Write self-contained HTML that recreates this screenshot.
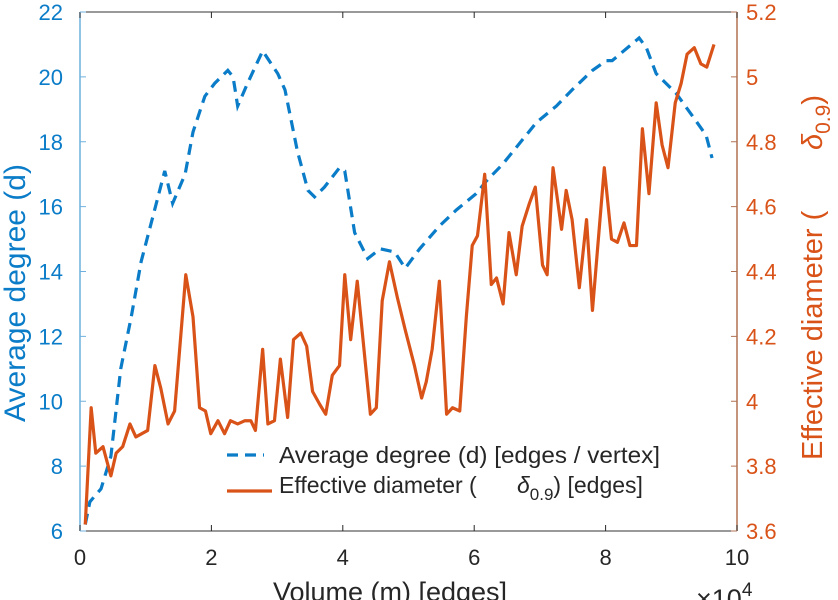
<!DOCTYPE html>
<html><head><meta charset="utf-8"><style>
body{margin:0;background:#fff;}
svg{display:block;font-family:"Liberation Sans","DejaVu Sans",sans-serif;}
</style></head><body>
<svg id="chart" width="838" height="600" viewBox="0 0 838 600" xmlns="http://www.w3.org/2000/svg"></svg>
<script>
const xTicks=[0,2,4,6,8,10];
const leftTicks=[6,8,10,12,14,16,18,20,22];
const rightTicks=[3.6,3.8,4,4.2,4.4,4.6,4.8,5,5.2];
const rightTickLabels=["3.6","3.8","4","4.2","4.4","4.6","4.8","5","5.2"];
const degX=[0.08,0.15,0.32,0.47,0.62,0.78,0.93,1.11,1.29,1.41,1.60,1.72,1.90,2.05,2.25,2.33,2.40,2.55,2.78,3.01,3.12,3.31,3.47,3.57,3.72,3.95,4.03,4.18,4.38,4.57,4.79,4.95,5.17,5.47,5.73,6.03,6.19,6.43,6.95,7.25,7.49,7.80,8.01,8.10,8.51,8.62,8.77,9.07,9.32,9.53,9.62];
const degY=[6.2,6.9,7.3,8.3,11,12.6,14.3,15.7,17.1,16.1,17,18.3,19.4,19.8,20.2,20,19.1,19.8,20.8,20.1,19.6,17.7,16.5,16.3,16.6,17.2,17.1,15.2,14.4,14.7,14.6,14.1,14.7,15.4,15.9,16.4,16.8,17.3,18.6,19.1,19.6,20.2,20.5,20.5,21.2,20.9,20.1,19.5,18.8,18.2,17.5];
const diaX=[0.08,0.17,0.24,0.35,0.47,0.55,0.65,0.76,0.85,1.03,1.14,1.23,1.34,1.44,1.61,1.72,1.82,1.91,1.99,2.10,2.20,2.29,2.40,2.51,2.60,2.67,2.78,2.86,2.96,3.05,3.16,3.25,3.36,3.45,3.54,3.65,3.74,3.84,3.95,4.03,4.12,4.22,4.42,4.51,4.60,4.71,4.83,4.95,5.09,5.20,5.27,5.36,5.47,5.58,5.67,5.78,5.88,5.97,6.05,6.16,6.26,6.34,6.44,6.53,6.64,6.73,6.84,6.93,7.04,7.11,7.20,7.33,7.40,7.49,7.60,7.71,7.80,7.98,8.09,8.18,8.28,8.37,8.47,8.56,8.66,8.77,8.86,8.95,9.06,9.15,9.24,9.35,9.45,9.54,9.65];
const diaY=[3.62,3.98,3.84,3.86,3.77,3.84,3.86,3.93,3.89,3.91,4.11,4.04,3.93,3.97,4.39,4.26,3.98,3.97,3.90,3.94,3.90,3.94,3.93,3.94,3.94,3.91,4.16,3.93,3.94,4.13,3.95,4.19,4.21,4.17,4.03,3.99,3.96,4.08,4.11,4.39,4.19,4.37,3.96,3.98,4.31,4.43,4.32,4.22,4.11,4.01,4.06,4.16,4.37,3.96,3.98,3.97,4.26,4.48,4.51,4.70,4.36,4.38,4.30,4.52,4.39,4.54,4.61,4.66,4.42,4.39,4.72,4.53,4.65,4.56,4.35,4.56,4.28,4.72,4.50,4.49,4.55,4.48,4.48,4.84,4.64,4.92,4.79,4.72,4.92,4.98,5.07,5.09,5.04,5.03,5.10];

const L=80,R=737,T=12,B=531;
const xs=v=>L+(v-0)/(10-0)*(R-L);
const yl=v=>B-(v-6)/(22-6)*(B-T);
const yr=v=>B-(v-3.6)/(5.2-3.6)*(B-T);
const svg=document.getElementById('chart');
const NS='http://www.w3.org/2000/svg';
function mk(tag,attrs,parent){const e=document.createElementNS(NS,tag);for(const k in attrs)e.setAttribute(k,attrs[k]);(parent||svg).appendChild(e);return e;}
const BLUE='#0A7CC8',AXB='#6FB0DE',ORANGE='#D95319',AXO='#B07050',GRAY='#262626';
const FS=22;

let e;
e=mk('line',{x1:L,y1:T,x2:R,y2:T,stroke:'#333','stroke-width':1});


e=mk('line',{x1:L,y1:B,x2:R,y2:B,stroke:'#333','stroke-width':1});


e=mk('line',{x1:L,y1:T,x2:L,y2:B,stroke:AXB,'stroke-width':1.5});


e=mk('line',{x1:R,y1:T,x2:R,y2:B,stroke:AXO,'stroke-width':1.5});



xTicks.forEach(v=>{
  const x=xs(v);
  e=mk('line',{x1:x,y1:B,x2:x,y2:B-6,stroke:GRAY});
  
  
  e=mk('line',{x1:x,y1:T,x2:x,y2:T+6,stroke:GRAY});
  
  
  e=mk('text',{x:x,y:B+34,'text-anchor':'middle','font-size':FS,fill:GRAY});
  e.textContent=String(v);
  
  
});
leftTicks.forEach(v=>{
  const y=yl(v);
  e=mk('line',{x1:L,y1:y,x2:L+6,y2:y,stroke:AXB});
  
  
  e=mk('text',{x:L-17,y:y+8,'text-anchor':'end','font-size':FS,fill:BLUE});
  e.textContent=String(v);
  
  
});
rightTicks.forEach((v,i)=>{
  const y=yr(v);
  e=mk('line',{x1:R,y1:y,x2:R-6,y2:y,stroke:AXO});
  
  
  e=mk('text',{x:R+9,y:y+8,'text-anchor':'start','font-size':FS,fill:ORANGE});
  e.textContent=rightTickLabels[i];
  
  
});

e=mk('polyline',{points:degX.map((x,i)=>xs(x)+','+yl(degY[i])).join(' '),fill:'none',stroke:BLUE,'stroke-width':3.2,'stroke-dasharray':'11 7'});


e=mk('polyline',{points:diaX.map((x,i)=>xs(x)+','+yr(diaY[i])).join(' '),fill:'none',stroke:ORANGE,'stroke-width':3.2,'stroke-linejoin':'round'});



e=mk('line',{x1:227,y1:455,x2:264,y2:455,stroke:BLUE,'stroke-width':3.2,'stroke-dasharray':'11 7'});


e=mk('text',{x:279,y:463,'font-size':23,fill:GRAY,textLength:381,lengthAdjust:'spacingAndGlyphs'});
e.textContent='Average degree (d) [edges / vertex]';


e=mk('line',{x1:227,y1:491,x2:272,y2:491,stroke:ORANGE,'stroke-width':3.2});


e=mk('text',{x:279,y:493,'font-size':23,fill:GRAY});
e.innerHTML='Effective diameter (<tspan x="517" font-style="italic">δ</tspan><tspan font-size="17" dy="7">0.9</tspan><tspan dy="-7">) [edges]</tspan>';



e=mk('text',{x:390,y:601,'text-anchor':'middle','font-size':27,fill:GRAY});
e.textContent='Volume (m) [edges]';


e=mk('text',{x:696,y:608,'font-size':27,fill:GRAY});
e.innerHTML='×10<tspan font-size="19" dy="-12">4</tspan>';


e=mk('text',{x:0,y:0,'text-anchor':'middle','font-size':30,fill:BLUE,transform:'translate(25,293) rotate(-90)'});
e.textContent='Average degree (d)';


e=mk('text',{x:0,y:0,'font-size':29,fill:ORANGE,transform:'translate(822,460) rotate(-90)'});
e.innerHTML='Effective diameter (<tspan x="310" font-style="italic">δ</tspan><tspan font-size="21" dy="8">0.9</tspan><tspan dy="-8">)</tspan>';


</script>
</body></html>
